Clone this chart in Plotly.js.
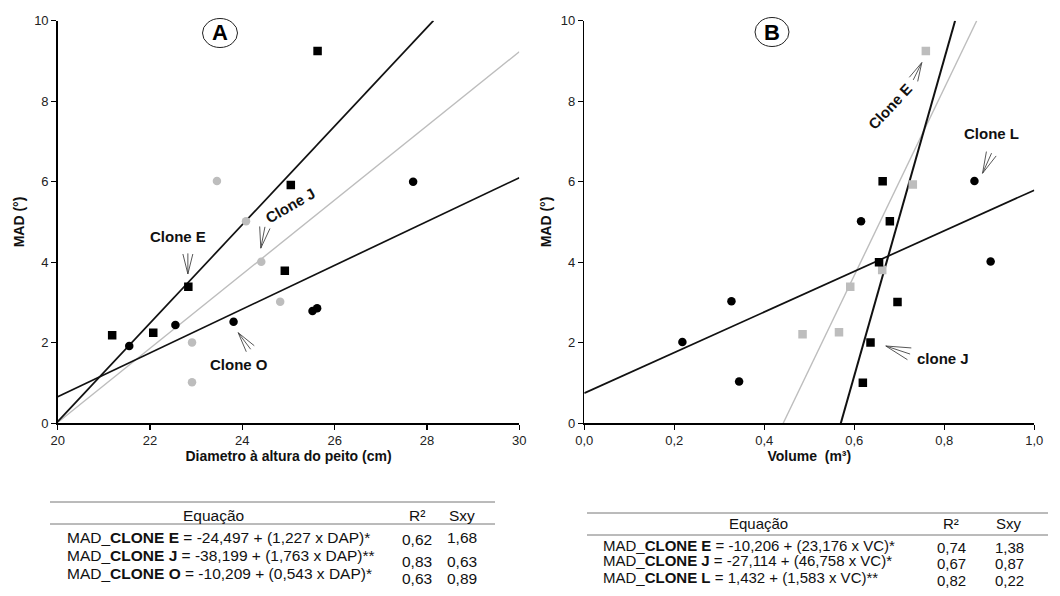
<!DOCTYPE html>
<html>
<head>
<meta charset="utf-8">
<script src="https://cdn.plot.ly/plotly-3.0.1.min.js"></script>
<style>html,body{margin:0;padding:0;background:#fff;}#chart{width:1060px;height:596px;}</style>
</head>
<body>
<div id="chart"></div>
<script>
// ---------- Panel A: MAD vs DAP ----------
const aCloneE_dap = [21.18, 22.07, 22.83, 24.92, 25.05, 25.63];
const aCloneE_mad = [2.19, 2.25, 3.39, 3.79, 5.92, 9.25];
const aCloneJ_dap = [23.45, 24.08, 24.41, 24.82, 22.91, 22.91];
const aCloneJ_mad = [6.02, 5.02, 4.01, 3.02, 2.01, 1.02];
const aCloneO_dap = [21.55, 22.55, 23.81, 25.52, 25.62, 27.70];
const aCloneO_mad = [1.92, 2.44, 2.52, 2.79, 2.86, 6.00];
// fitted lines (end points)
const aLineE_x = [20, 28.14], aLineE_y = [0.04, 10];
const aLineJ_x = [20, 30],    aLineJ_y = [0.02, 9.23];
const aLineO_x = [20, 30],    aLineO_y = [0.66, 6.10];

// ---------- Panel B: MAD vs Volume ----------
const bCloneL_vol = [0.218, 0.327, 0.344, 0.615, 0.867, 0.903];
const bCloneL_mad = [2.02, 3.03, 1.04, 5.02, 6.02, 4.02];
const bCloneJ_vol = [0.663, 0.679, 0.655, 0.696, 0.636, 0.619];
const bCloneJ_mad = [6.01, 5.02, 4.00, 3.01, 2.01, 1.01];
const bCloneE_vol = [0.759, 0.730, 0.662, 0.591, 0.566, 0.485];
const bCloneE_mad = [9.25, 5.93, 3.81, 3.39, 2.26, 2.21];
const bLineJ_x = [0.570, 0.824], bLineJ_y = [0, 10];
const bLineE_x = [0.442, 0.872], bLineE_y = [0, 10];
const bLineL_x = [0, 1.0],       bLineL_y = [0.75, 5.79];

// ---------- Tables ----------
const tableA_eq = [
  'MAD_<b>CLONE E</b> = -24,497 + (1,227 x DAP)*',
  'MAD_<b>CLONE J</b> = -38,199 + (1,763 x DAP)**',
  'MAD_<b>CLONE O</b> = -10,209 + (0,543 x DAP)*'
];
const tableA_r2 = ['0,62', '0,83', '0,63'];
const tableA_sxy = ['1,68', '0,63', '0,89'];
const tableB_eq = [
  'MAD_<b>CLONE E</b> = -10,206 + (23,176 x VC)*',
  'MAD_<b>CLONE J</b> = -27,114 + (46,758 x VC)*',
  'MAD_<b>CLONE L</b> = 1,432 + (1,583 x VC)**'
];
const tableB_r2 = ['0,74', '0,67', '0,82'];
const tableB_sxy = ['1,38', '0,87', '0,22'];
const tableHeader = ['Equação', 'R²', 'Sxy'];

const W = 1060, H = 596;
const px = v => v / W, py = v => 1 - v / H;
const FONT = 'Liberation Sans, Arial, sans-serif';
const GRAY = '#bdbdbd';

// plot-area geometry (pixels)
const domA = [57.7, 519.3], domB = [584.3, 1034.3], domY = [423.3, 20.7];
const rngA = [20, 30], rngB = [0, 1], rngY = [0, 10];

function line(x, y, color, xa, ya, w) {
  return {x, y, mode: 'lines', line: {color, width: w || 1.7}, xaxis: xa, yaxis: ya, hoverinfo: 'skip'};
}
function pts(x, y, color, symbol, xa, ya) {
  return {x, y, mode: 'markers', marker: {color, symbol, size: 8.5, line: {width: 0}}, xaxis: xa, yaxis: ya, hoverinfo: 'skip'};
}

const data = [
  line(aLineJ_x, aLineJ_y, GRAY, 'x', 'y', 1.4),
  line(aLineE_x, aLineE_y, '#111', 'x', 'y'),
  line(aLineO_x, aLineO_y, '#111', 'x', 'y'),
  pts(aCloneJ_dap, aCloneJ_mad, GRAY, 'circle', 'x', 'y'),
  pts(aCloneE_dap, aCloneE_mad, '#000', 'square', 'x', 'y'),
  pts(aCloneO_dap, aCloneO_mad, '#000', 'circle', 'x', 'y'),
  line(bLineE_x, bLineE_y, GRAY, 'x2', 'y2', 1.4),
  line(bLineJ_x, bLineJ_y, '#111', 'x2', 'y2', 2),
  line(bLineL_x, bLineL_y, '#111', 'x2', 'y2'),
  pts(bCloneE_vol, bCloneE_mad, GRAY, 'square', 'x2', 'y2'),
  pts(bCloneJ_vol, bCloneJ_mad, '#000', 'square', 'x2', 'y2'),
  pts(bCloneL_vol, bCloneL_mad, '#000', 'circle', 'x2', 'y2')
];

const axisCommon = {
  showgrid: false, zeroline: false, showline: true, linecolor: '#000', linewidth: 1.5,
  ticks: 'outside', ticklen: 5, tickwidth: 1.2, tickcolor: '#000',
  tickfont: {family: FONT, size: 13, color: '#222'}, automargin: false, fixedrange: true
};
const titleFont = {family: FONT, size: 14, color: '#111', weight: 'bold'};

const annotations = [];
const shapes = [];
function txt(x, y, text, xref, yref, opts) {
  annotations.push(Object.assign({x, y, text, xref, yref, showarrow: false,
    xanchor: 'center', yanchor: 'middle',
    font: {family: FONT, size: 13, color: '#111'}}, opts || {}));
}
// data -> pixel helpers for drawing the open arrows
function toPix(panel, x, y) {
  const d = panel === 'A' ? domA : domB, r = panel === 'A' ? rngA : rngB;
  return [d[0] + (x - r[0]) / (r[1] - r[0]) * (d[1] - d[0]),
          domY[0] + (y - rngY[0]) / (rngY[1] - rngY[0]) * (domY[1] - domY[0])];
}
function arrow(panel, tx, ty, hx, hy) {
  const t = toPix(panel, tx, ty), h = toPix(panel, hx, hy);
  const dx = t[0] - h[0], dy = t[1] - h[1];
  const len = Math.hypot(dx, dy), ang = Math.atan2(dy, dx), spread = 14 * Math.PI / 180;
  const b1 = [h[0] + len * Math.cos(ang + spread), h[1] + len * Math.sin(ang + spread)];
  const b2 = [h[0] + len * Math.cos(ang - spread), h[1] + len * Math.sin(ang - spread)];
  const P = p => px(p[0]) + ',' + py(p[1]);
  shapes.push({type: 'path', xref: 'paper', yref: 'paper',
    path: 'M' + P(t) + 'L' + P(h) + 'M' + P(b1) + 'L' + P(h) + 'L' + P(b2),
    line: {color: '#444', width: 0.9}});
}
const boldLbl = {family: FONT, size: 15, color: '#111', weight: 'bold'};
// Panel A labels
txt(22.60, 4.65, 'Clone E', 'x', 'y', {font: boldLbl});
txt(25.03, 5.42, 'Clone J', 'x', 'y', {font: boldLbl, textangle: -30});
txt(23.93, 1.47, 'Clone O', 'x', 'y', {font: boldLbl});
arrow('A', 22.82, 4.22, 22.82, 3.71);
arrow('A', 24.49, 4.88, 24.40, 4.35);
arrow('A', 24.18, 1.84, 23.91, 2.25);
// Panel B labels
txt(0.679, 7.87, 'Clone E', 'x2', 'y2', {font: boldLbl, textangle: -47});
txt(0.905, 7.19, 'Clone L', 'x2', 'y2', {font: boldLbl});
txt(0.798, 1.62, 'clone J', 'x2', 'y2', {font: boldLbl});
arrow('B', 0.731, 8.53, 0.750, 8.96);
arrow('B', 0.905, 6.71, 0.885, 6.21);
arrow('B', 0.724, 1.72, 0.670, 1.92);
// Panel letters
const bigFont = {family: FONT, size: 22, color: '#000', weight: 'bold'};
txt(px(220), py(33), 'A', 'paper', 'paper', {font: bigFont});
txt(px(772), py(32), 'B', 'paper', 'paper', {font: bigFont});
shapes.push({type: 'circle', xref: 'paper', yref: 'paper', x0: px(202.5), x1: px(237.5), y0: py(47.5), y1: py(18.5), line: {color: '#222', width: 1}});
shapes.push({type: 'circle', xref: 'paper', yref: 'paper', x0: px(755), x1: px(789), y0: py(46.5), y1: py(17.5), line: {color: '#222', width: 1}});

// Tables
function table(eqs, r2s, sxys, o) {
  const tFont = {family: FONT, size: o.size, color: '#111'};
  txt(px(o.hdrX), py(o.hdrY), tableHeader[0], 'paper', 'paper', {font: tFont});
  txt(px(o.r2X), py(o.hdrY), tableHeader[1], 'paper', 'paper', {font: tFont});
  txt(px(o.sxyX), py(o.hdrY), tableHeader[2], 'paper', 'paper', {font: tFont});
  eqs.forEach((e, i) => {
    txt(px(o.eqX), py(o.eqY[i]), e, 'paper', 'paper', {font: tFont, xanchor: 'left'});
    txt(px(o.r2X), py(o.valY[i]), r2s[i], 'paper', 'paper', {font: tFont});
    txt(px(o.sxyX), py(o.sxyY[i]), sxys[i], 'paper', 'paper', {font: tFont});
  });
  [o.top, o.mid].forEach(yy => shapes.push({type: 'line', xref: 'paper', yref: 'paper',
    x0: px(o.x0), x1: px(o.x1), y0: py(yy), y1: py(yy), line: {color: '#777', width: 1}}));
}
table(tableA_eq, tableA_r2, tableA_sxy, {size: 15.5, hdrX: 213, hdrY: 515, r2X: 417, sxyX: 462, eqX: 65,
  eqY: [537, 555, 573], valY: [539, 561, 578], sxyY: [537, 561, 578], x0: 50, x1: 495, top: 502, mid: 524});
table(tableB_eq, tableB_r2, tableB_sxy, {size: 15, hdrX: 758, hdrY: 523, r2X: 951, sxyX: 1009, eqX: 601,
  eqY: [545, 560, 577], valY: [547, 563, 580], sxyY: [547, 563, 580], x0: 587, x1: 1048, top: 513, mid: 535});

const layout = {
  width: W, height: H, margin: {l: 0, r: 0, t: 0, b: 0},
  paper_bgcolor: '#fff', plot_bgcolor: '#fff', showlegend: false, hovermode: false,
  separators: ',.',
  xaxis: Object.assign({}, axisCommon, {domain: [px(domA[0]), px(domA[1])], range: rngA, dtick: 2, tick0: 20,
    title: {text: 'Diametro à altura do peito (cm)', font: titleFont, standoff: 4}, anchor: 'y'}),
  yaxis: Object.assign({}, axisCommon, {domain: [py(domY[0]), py(domY[1])], range: rngY, dtick: 2,
    title: {text: 'MAD (°)', font: titleFont, standoff: 6}, anchor: 'x'}),
  xaxis2: Object.assign({}, axisCommon, {domain: [px(domB[0]), px(domB[1])], range: rngB, dtick: 0.2, tickformat: '.1f',
    title: {text: 'Volume  (m³)', font: titleFont, standoff: 4}, anchor: 'y2'}),
  yaxis2: Object.assign({}, axisCommon, {domain: [py(domY[0]), py(domY[1])], range: rngY, dtick: 2,
    title: {text: 'MAD (°)', font: titleFont, standoff: 6}, anchor: 'x2'}),
  annotations, shapes
};

Plotly.newPlot('chart', data, layout, {staticPlot: true, displayModeBar: false});
</script>
</body>
</html>
